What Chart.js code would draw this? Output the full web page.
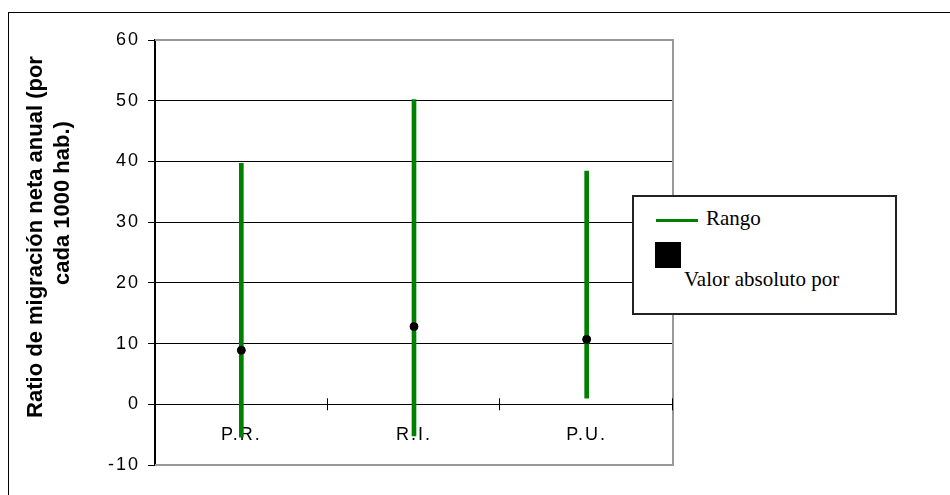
<!DOCTYPE html>
<html>
<head>
<meta charset="utf-8">
<script src="https://cdn.jsdelivr.net/npm/chart.js@4"></script>
<style>
  html, body { margin: 0; padding: 0; background: #fff; overflow: hidden; }
  #wrap { position: relative; width: 950px; height: 495px; }
  #frame { position: absolute; left: 8px; top: 12px; width: 1000px; height: 600px; border: 1px solid #000; }
  #chart { position: absolute; left: 0; top: 0; }
  .ytitle { position: absolute; font: bold 22px "Liberation Sans", Arial, sans-serif; color: #000;
            white-space: nowrap; transform: translate(-50%, -50%) rotate(-90deg); }
  #legend { position: absolute; left: 632px; top: 195px; width: 261px; height: 116px;
            border: 2px solid #222; background: #fff; font: 21px "Liberation Serif", "Times New Roman", serif; }
  .lg { position: absolute; white-space: nowrap; }
</style>
</head>
<body>
<div id="wrap">
  <div id="frame"></div>
  <canvas id="chart" width="950" height="495"></canvas>
  <div class="ytitle" id="t1" style="left:35px; top:237px;"></div>
  <div class="ytitle" id="t2" style="left:62px; top:203px;"></div>
  <div id="legend">
    <div class="lg" id="lgLine" style="left:22px; top:22px; width:42px; height:3px; background:#008000;"></div>
    <div class="lg" id="lgRange" style="left:72px; top:9px;"></div>
    <div class="lg" id="lgBox" style="left:21px; top:45px; width:26px; height:26px; background:#000;"></div>
    <div class="lg" id="lgValue" style="left:50px; top:70px;"></div>
  </div>
</div>
<script>
const categories = ['P.R.', 'R.I.', 'P.U.'];
const rangeLow = [-5.4, -5.2, 1.0];
const rangeHigh = [39.7, 50.2, 38.4];
const absValue = [8.9, 12.8, 10.7];
const yTicks = [-10, 0, 10, 20, 30, 40, 50, 60];
const yTitle = ['Ratio de migración neta anual (por', 'cada 1000 hab.)'];
const seriesNames = ['Rango', 'Valor absoluto por'];

document.getElementById('t1').textContent = yTitle[0];
document.getElementById('t2').textContent = yTitle[1];
document.getElementById('lgRange').textContent = seriesNames[0];
document.getElementById('lgValue').textContent = seriesNames[1];

// gray plot frame (top, right, bottom) + spaced tick text
const framePlugin = {
  id: 'frame',
  beforeDraw(chart) {
    chart.ctx.letterSpacing = '2px';
  },
  afterDraw(chart) {
    const { ctx, chartArea: a } = chart;
    ctx.save();
    ctx.strokeStyle = '#999';
    ctx.lineWidth = 2;
    ctx.beginPath();
    ctx.moveTo(a.left, a.top);
    ctx.lineTo(a.right, a.top);
    ctx.lineTo(a.right, a.bottom);
    ctx.lineTo(a.left, a.bottom);
    ctx.stroke();
    // tick marks across the category axis at y = 0
    const y0 = chart.scales.y.getPixelForValue(0);
    const xs = chart.scales.x;
    ctx.strokeStyle = '#000';
    ctx.lineWidth = 1;
    for (let i = 1; i <= categories.length; i++) {
      const x = Math.round(xs.left + i * (xs.right - xs.left) / categories.length) - 0.5;
      ctx.beginPath();
      ctx.moveTo(x, y0 - 6);
      ctx.lineTo(x, y0 + 6);
      ctx.stroke();
    }
    ctx.restore();
  }
};

new Chart(document.getElementById('chart').getContext('2d'), {
  data: {
    labels: categories,
    datasets: [
      {
        type: 'line',
        label: seriesNames[1],
        data: absValue,
        showLine: false,
        pointRadius: 4,
        pointBackgroundColor: '#000',
        pointBorderColor: '#000',
        order: 1
      },
      {
        type: 'bar',
        label: seriesNames[0],
        data: categories.map((c, i) => [rangeLow[i], rangeHigh[i]]),
        backgroundColor: '#008000',
        barThickness: 4,
        borderSkipped: false,
        order: 2
      }
    ]
  },
  options: {
    responsive: false,
    animation: false,
    layout: { padding: { top: 40, right: 277, bottom: 30, left: 0 } },
    plugins: { legend: { display: false }, tooltip: { enabled: false } },
    scales: {
      x: {
        type: 'category',
        position: { y: 0 },
        offset: true,
        grid: { display: false },
        border: { color: '#000', width: 1 },
        ticks: {
          color: '#000',
          font: { family: '"Liberation Sans", Arial, sans-serif', size: 18 },
          padding: 12
        }
      },
      y: {
        min: -10,
        max: 60,
        afterFit(scale) { scale.width = 155; },
        afterBuildTicks(scale) { scale.ticks = yTicks.map(v => ({ value: v })); },
        grid: {
          color: (c) => (c.tick && (c.tick.value === 60 || c.tick.value === -10)) ? 'rgba(0,0,0,0)' : '#000',
          tickColor: '#000',
          tickLength: 7,
          lineWidth: 1
        },
        border: { color: '#000', width: 2 },
        ticks: {
          color: '#000',
          font: { family: '"Liberation Sans", Arial, sans-serif', size: 18 },
          padding: 8
        }
      }
    }
  },
  plugins: [framePlugin]
});
</script>
</body>
</html>
